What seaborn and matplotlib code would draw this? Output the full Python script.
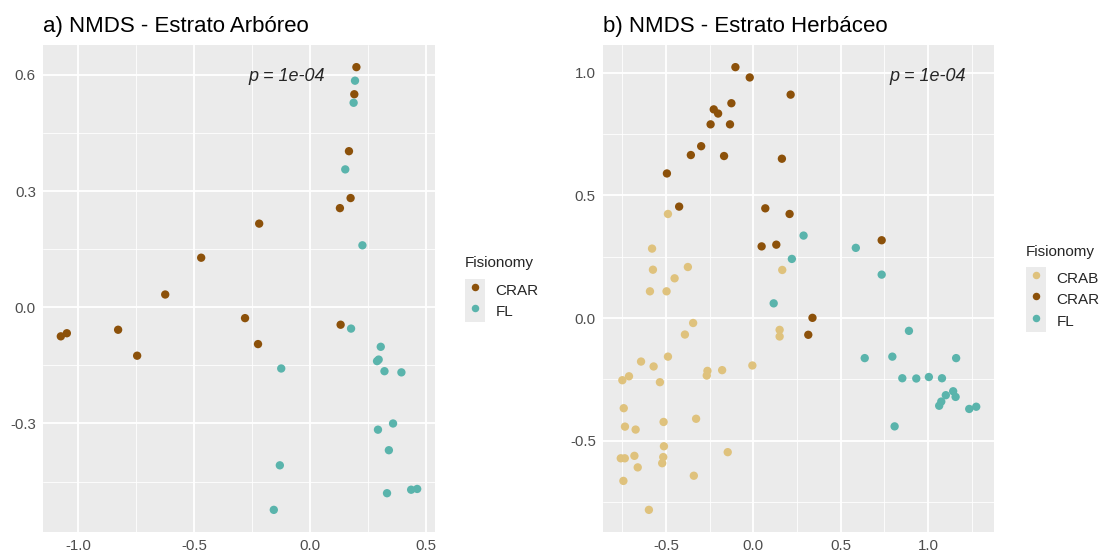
import numpy as np
import pandas as pd
import matplotlib
matplotlib.use("Agg")
import matplotlib.pyplot as plt
import seaborn as sns
from matplotlib.patches import Rectangle
from matplotlib.lines import Line2D
from matplotlib.ticker import FixedLocator

# ---------------- data ----------------
# a) tree stratum NMDS scores
arb_crar_x = [0.199, 0.190, 0.167, 0.174, 0.128, -0.220, -0.470, -0.625, -1.075, -1.049,
              -0.828, -0.746, -0.281, -0.225, 0.131]
arb_crar_y = [0.620, 0.550, 0.403, 0.282, 0.256, 0.216, 0.128, 0.033, -0.075, -0.067,
              -0.058, -0.125, -0.028, -0.095, -0.045]
arb_fl_x = [0.193, 0.187, 0.151, 0.225, 0.176, -0.125, 0.304, 0.295, 0.288, 0.320,
            0.393, 0.357, 0.292, 0.339, -0.131, 0.435, 0.461, 0.331, -0.157]
arb_fl_y = [0.585, 0.528, 0.356, 0.160, -0.055, -0.158, -0.102, -0.135, -0.139, -0.165,
            -0.168, -0.300, -0.316, -0.369, -0.408, -0.471, -0.469, -0.480, -0.523]

# b) herbaceous stratum NMDS scores
herb_crab_x = [-0.489, -0.580, -0.575, -0.375, -0.451, -0.592, -0.497, 0.165, -0.345, -0.392,
               0.150, 0.150, -0.489, -0.643, -0.571, -0.712, -0.750, -0.535, -0.263, -0.267,
               -0.179, -0.006, -0.742, -0.328, -0.514, -0.735, -0.674, -0.512, -0.147, -0.759,
               -0.736, -0.681, -0.516, -0.522, -0.662, -0.341, -0.744, -0.598]
herb_crab_y = [0.424, 0.283, 0.197, 0.208, 0.162, 0.109, 0.109, 0.196, -0.020, -0.067,
               -0.048, -0.075, -0.157, -0.177, -0.197, -0.237, -0.253, -0.261, -0.215, -0.234,
               -0.212, -0.193, -0.367, -0.410, -0.423, -0.442, -0.454, -0.522, -0.546, -0.571,
               -0.571, -0.561, -0.566, -0.591, -0.608, -0.642, -0.663, -0.781]
herb_crar_x = [-0.103, -0.021, 0.213, -0.126, -0.227, -0.202, -0.245, -0.134, -0.299, -0.358,
               -0.168, 0.163, -0.495, -0.425, 0.068, 0.207, 0.047, 0.131, 0.734, 0.338, 0.314]
herb_crar_y = [1.022, 0.980, 0.910, 0.875, 0.850, 0.833, 0.789, 0.789, 0.700, 0.664,
               0.660, 0.649, 0.589, 0.454, 0.447, 0.424, 0.292, 0.299, 0.317, 0.001, -0.068]
herb_fl_x = [0.287, 0.586, 0.220, 0.734, 0.116, 0.890, 0.637, 0.795, 1.160, 0.852,
             0.932, 1.004, 1.079, 1.101, 1.143, 1.157, 1.075, 1.063, 1.235, 1.275, 0.808]
herb_fl_y = [0.336, 0.286, 0.241, 0.177, 0.060, -0.052, -0.163, -0.157, -0.163, -0.245,
             -0.246, -0.240, -0.245, -0.314, -0.298, -0.321, -0.340, -0.357, -0.370, -0.361, -0.441]

arb_groups = ["CRAR", "FL"]
herb_groups = ["CRAB", "CRAR", "FL"]
palette = {"CRAB": "#DFC27D", "CRAR": "#8C510A", "FL": "#5AB4AC"}

arb_xticks = [-1.0, -0.5, 0.0, 0.5]
arb_yticks = [-0.3, 0.0, 0.3, 0.6]
herb_xticks = [-0.5, 0.0, 0.5, 1.0]
herb_yticks = [-0.5, 0.0, 0.5, 1.0]

p_label = "p = 1e-04"
titles = ["a) NMDS - Estrato Arbóreo", "b) NMDS - Estrato Herbáceo"]
legend_title = "Fisionomy"

df_arb = pd.DataFrame({
    "NMDS1": arb_crar_x + arb_fl_x,
    "NMDS2": arb_crar_y + arb_fl_y,
    "Fisionomy": ["CRAR"] * len(arb_crar_x) + ["FL"] * len(arb_fl_x),
})
df_herb = pd.DataFrame({
    "NMDS1": herb_crab_x + herb_crar_x + herb_fl_x,
    "NMDS2": herb_crab_y + herb_crar_y + herb_fl_y,
    "Fisionomy": ["CRAB"] * len(herb_crab_x) + ["CRAR"] * len(herb_crar_x) + ["FL"] * len(herb_fl_x),
})

# ---------------- style ----------------
sns.set_theme(style="darkgrid")
plt.rcParams["font.family"] = ["Liberation Sans", "DejaVu Sans"]
plt.rcParams["axes.unicode_minus"] = False

W, H = 1104, 553
fig = plt.figure(figsize=(W / 100, H / 100), dpi=100)
fig.patch.set_facecolor("white")


def px_axes(x0, y0, x1, y1):
    return fig.add_axes([x0 / W, 1 - y1 / H, (x1 - x0) / W, (y1 - y0) / H])


def expand(vals, mult=0.05):
    lo, hi = min(vals), max(vals)
    r = hi - lo
    return lo - mult * r, hi + mult * r


def style_axes(ax, df, xticks, yticks, title):
    ax.set_facecolor("#EBEBEB")
    ax.set_xlim(*expand(df["NMDS1"]))
    ax.set_ylim(*expand(df["NMDS2"]))
    ax.set_xticks(xticks)
    ax.set_yticks(yticks)
    ax.set_xticklabels([f"{v:.1f}" for v in xticks])
    ax.set_yticklabels([f"{v:.1f}" for v in yticks])
    xmin = [(a + b) / 2 for a, b in zip(xticks[:-1], xticks[1:])]
    ymin = [(a + b) / 2 for a, b in zip(yticks[:-1], yticks[1:])]
    dx = xticks[1] - xticks[0]
    dy = yticks[1] - yticks[0]
    xmin = [xticks[0] - dx / 2] + xmin + [xticks[-1] + dx / 2]
    ymin = [yticks[0] - dy / 2] + ymin + [yticks[-1] + dy / 2]
    ax.xaxis.set_minor_locator(FixedLocator(xmin))
    ax.yaxis.set_minor_locator(FixedLocator(ymin))
    ax.grid(which="major", color="white", linewidth=1.3)
    ax.grid(which="minor", color="white", linewidth=0.6)
    ax.set_axisbelow(True)
    for s in ax.spines.values():
        s.set_visible(False)
    ax.tick_params(which="major", length=3.0, width=1.1, color="#333333",
                   labelsize=10.8, labelcolor="#4D4D4D", pad=2.2)
    ax.tick_params(which="minor", length=0)
    ax.set_xlabel("")
    ax.set_ylabel("")
    ax.set_title(title, loc="left", fontsize=16, color="black", pad=9.5)


ax1 = px_axes(43, 45, 435, 532)
ax2 = px_axes(603, 45, 994, 532)

sns.scatterplot(data=df_arb, x="NMDS1", y="NMDS2", hue="Fisionomy", hue_order=arb_groups,
                palette=palette, s=36, linewidth=0, legend=False, ax=ax1, zorder=3)
sns.scatterplot(data=df_herb, x="NMDS1", y="NMDS2", hue="Fisionomy", hue_order=herb_groups,
                palette=palette, s=36, linewidth=0, legend=False, ax=ax2, zorder=3)

style_axes(ax1, df_arb, arb_xticks, arb_yticks, titles[0])
style_axes(ax2, df_herb, herb_xticks, herb_yticks, titles[1])

ax1.text(-0.10, 0.595, p_label, style="italic", fontsize=13, ha="center", va="center")
ax2.text(1.00, 0.985, p_label, style="italic", fontsize=13, ha="center", va="center")

# ---------------- legends ----------------
KEY_H = 21.5
KEY_W = 20.0
FS = 11


def add_legend(ax, groups, left, key_top, title_y):
    # grey key background sits underneath the legend handles
    fig.patches.append(Rectangle((left / W, 1 - (key_top + KEY_H * len(groups)) / H),
                                 KEY_W / W, KEY_H * len(groups) / H,
                                 transform=fig.transFigure, facecolor="#EBEBEB",
                                 edgecolor="none", zorder=-1))
    fig.text(left / W, 1 - title_y / H, legend_title, fontsize=FS, ha="left", va="center")
    handles = [Line2D([], [], marker="o", linestyle="none", markersize=5.4,
                      color=palette[g], markerfacecolor=palette[g], markeredgewidth=0)
               for g in groups]
    fs_px = FS * 100 / 72
    # row height in matplotlib is fs*(0.65*hh + 0.245)
    hh = (KEY_H / fs_px - 0.245) / 0.65
    leg = ax.legend(handles, groups, loc="upper left",
                    bbox_to_anchor=(left / W, 1 - key_top / H), bbox_transform=fig.transFigure,
                    frameon=False, fontsize=FS, borderpad=0, borderaxespad=0,
                    labelspacing=0, handlelength=KEY_W / fs_px, handleheight=hh,
                    handletextpad=10.5 / fs_px)
    leg.set_zorder(10)


add_legend(ax1, arb_groups, 465, 279, 263)
add_legend(ax2, herb_groups, 1026, 267, 252)

fig.savefig("out.png", dpi=100, facecolor="white")
